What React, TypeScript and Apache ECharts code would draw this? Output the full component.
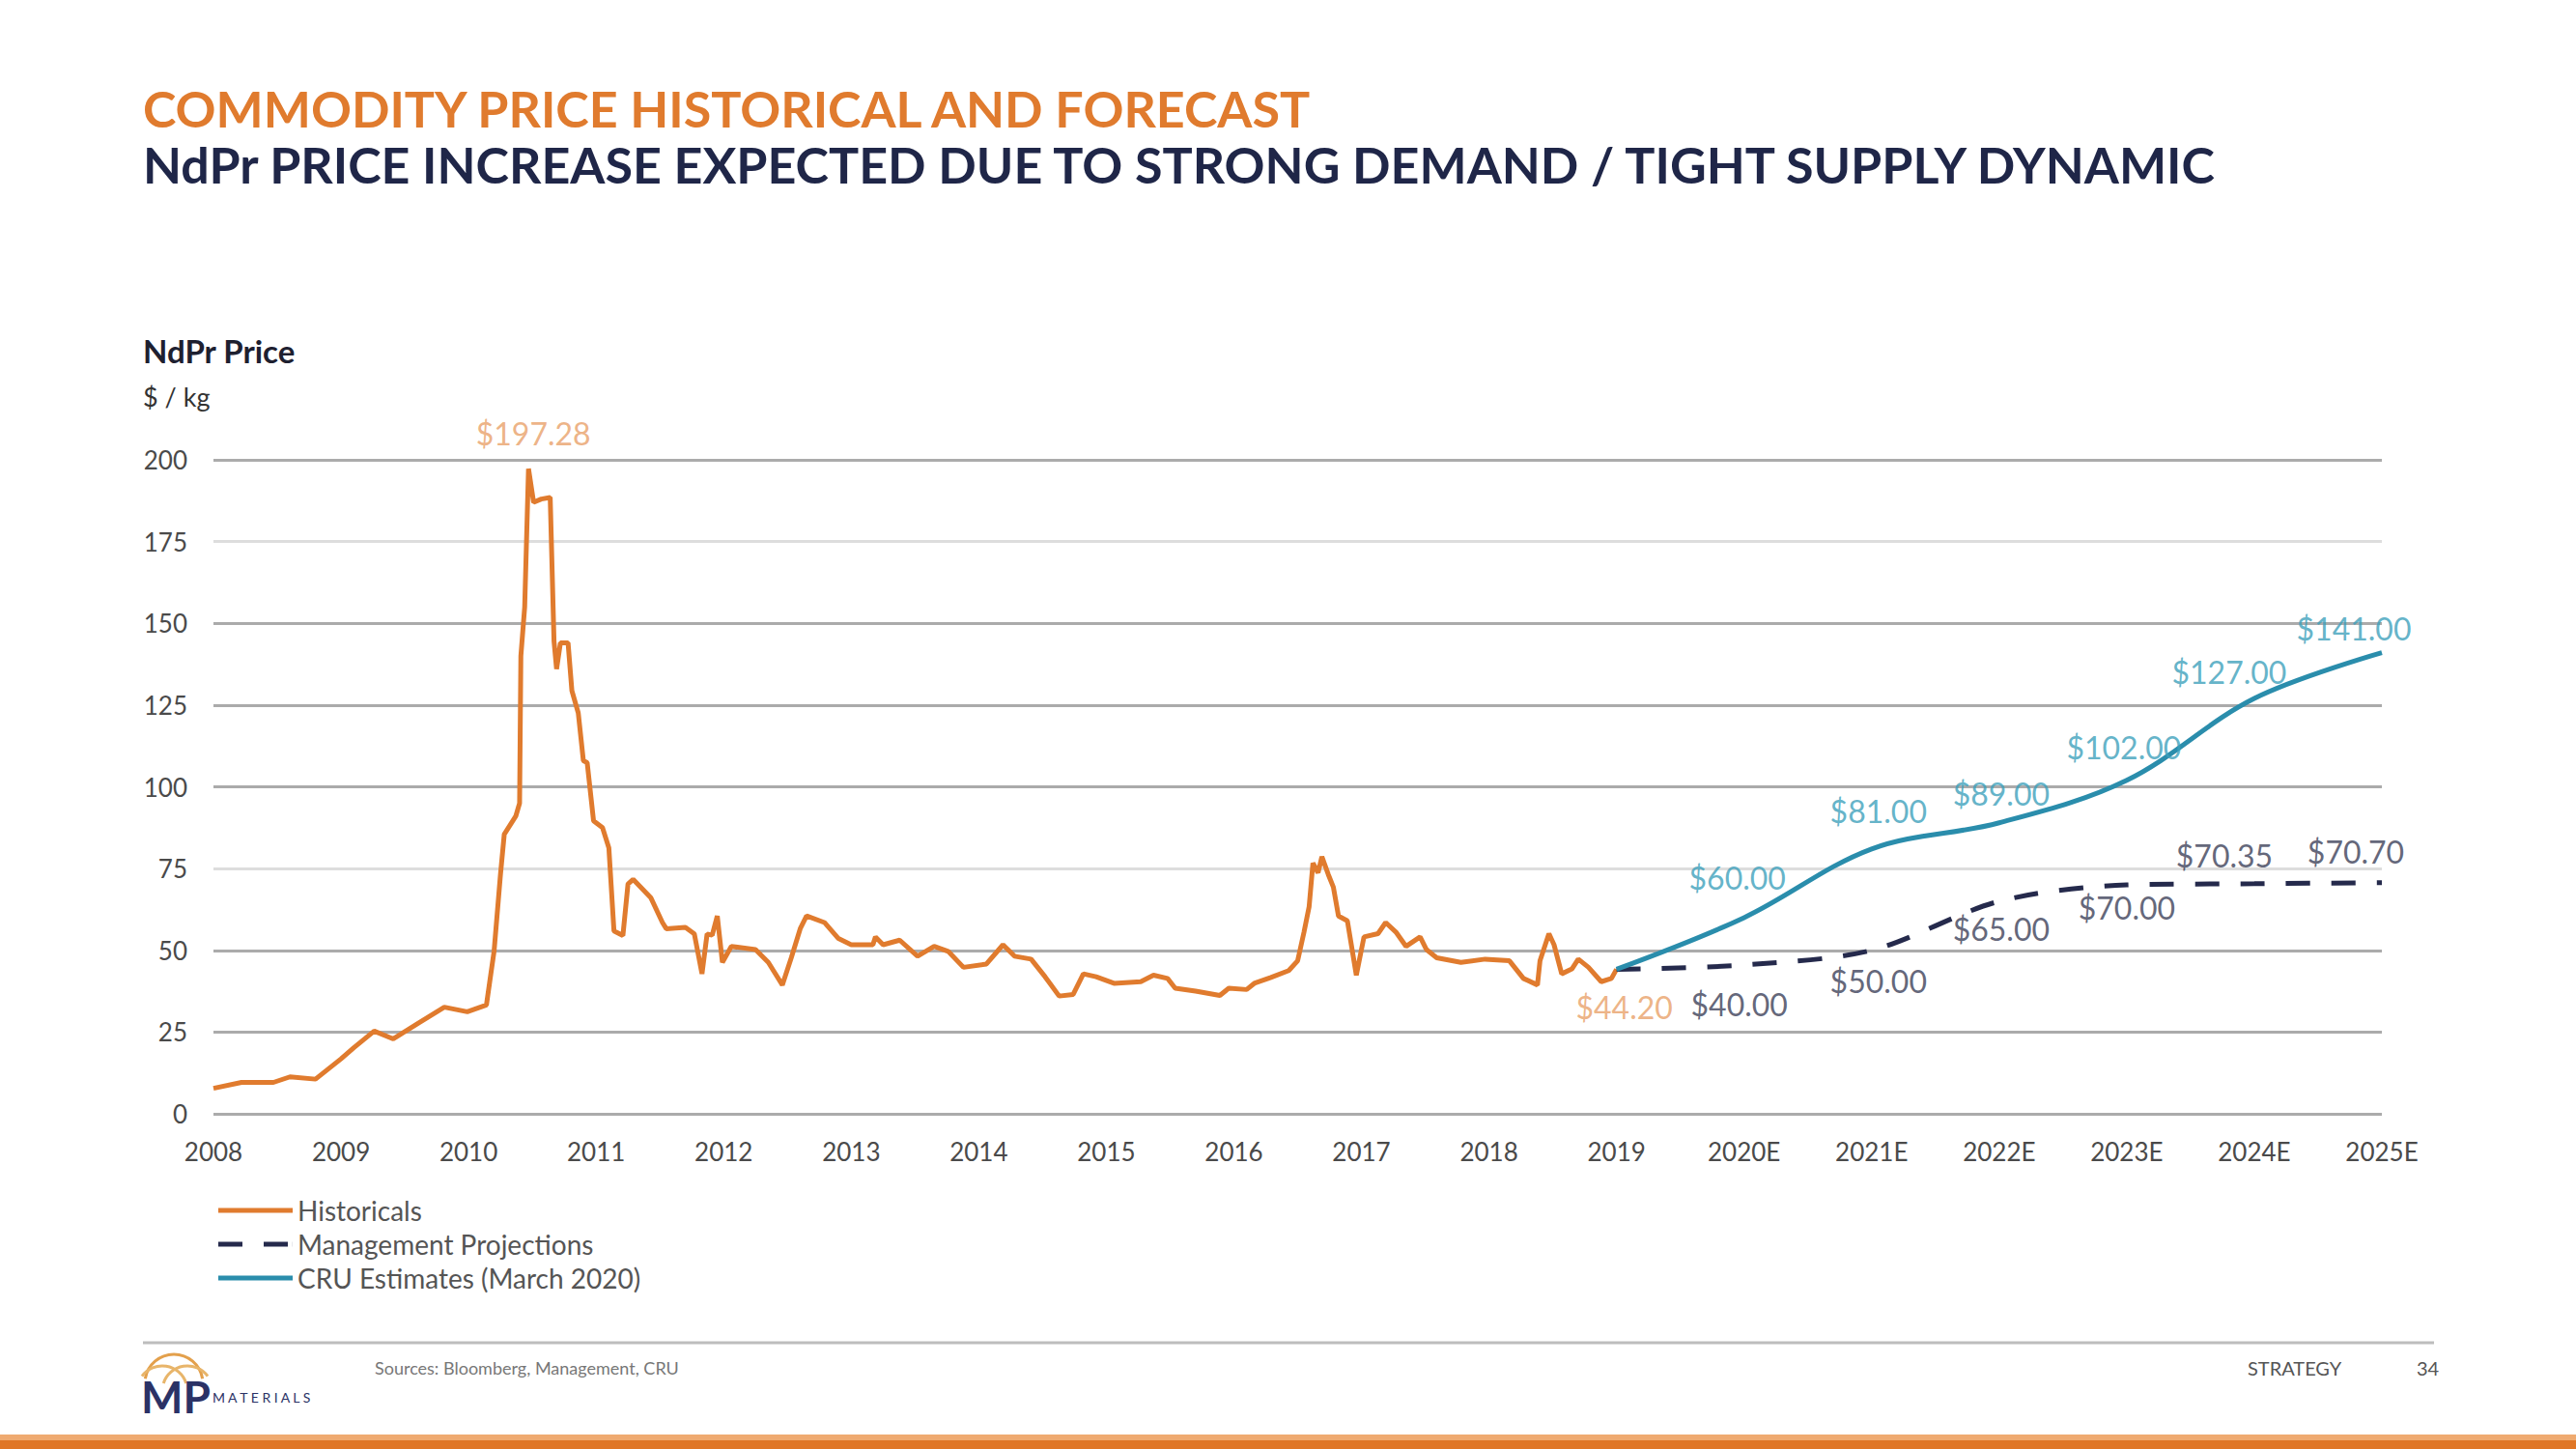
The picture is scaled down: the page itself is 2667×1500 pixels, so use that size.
import React, { useEffect, useRef } from 'react';
import * as echarts from 'echarts';

// ---------- DATA ----------
const histYears = [
  2008.0, 2008.22, 2008.47, 2008.6, 2008.8, 2008.9, 2009.0, 2009.1, 2009.26, 2009.41,
  2009.61, 2009.81, 2009.99, 2010.14, 2010.2, 2010.25, 2010.28, 2010.37, 2010.4, 2010.41,
  2010.44, 2010.47, 2010.51, 2010.57, 2010.64, 2010.67, 2010.69, 2010.72, 2010.78, 2010.81,
  2010.86, 2010.9, 2010.93, 2010.98, 2011.05, 2011.1, 2011.14, 2011.21, 2011.25, 2011.29,
  2011.43, 2011.52, 2011.55, 2011.7, 2011.77, 2011.83, 2011.87, 2011.91, 2011.95, 2011.99,
  2012.06, 2012.25, 2012.35, 2012.46, 2012.53, 2012.6, 2012.65, 2012.79, 2012.9, 2013.0,
  2013.17, 2013.19, 2013.25, 2013.38, 2013.52, 2013.65, 2013.76, 2013.88, 2014.06, 2014.19,
  2014.28, 2014.41, 2014.52, 2014.63, 2014.74, 2014.82, 2014.92, 2015.06, 2015.27, 2015.37,
  2015.48, 2015.54, 2015.7, 2015.89, 2015.96, 2016.1, 2016.16, 2016.29, 2016.43, 2016.5,
  2016.55, 2016.59, 2016.62, 2016.66, 2016.69, 2016.74, 2016.78, 2016.82, 2016.89, 2016.96,
  2017.02, 2017.13, 2017.19, 2017.27, 2017.35, 2017.46, 2017.51, 2017.59, 2017.78, 2017.97,
  2018.16, 2018.27, 2018.38, 2018.4, 2018.47, 2018.51, 2018.57, 2018.65, 2018.7, 2018.78,
  2018.88, 2018.96, 2019.0,
];
const histValues = [
  7.8, 9.6, 9.6, 11.3, 10.6, 13.7, 16.8, 20.2, 25.3, 22.9,
  27.8, 32.6, 31.2, 33.3, 49.7, 73.1, 85.5, 91, 95, 140,
  155, 197.28, 187, 188, 188.5, 144.5, 136, 144, 144, 129.4,
  122.6, 108, 107.4, 89.6, 87.5, 81.3, 55.9, 54.5, 70.3, 71.7,
  66, 58.5, 56.6, 57, 55, 42.8, 55, 54.6, 60.5, 46.3,
  51.2, 50.2, 46.3, 39.4, 47.7, 56.6, 60.5, 58.5, 53.6, 51.7,
  51.7, 54.1, 51.7, 53.1, 48.2, 51.2, 49.7, 44.8, 45.8, 51.7,
  48.2, 47.3, 41.9, 36, 36.5, 42.8, 41.9, 39.9, 40.4, 42.4,
  41.4, 38.4, 37.5, 36.2, 38.4, 38, 39.9, 41.7, 43.8, 46.8,
  55.6, 63.4, 76.7, 73.7, 78.6, 73.2, 69.3, 60.5, 59, 42.4,
  54.1, 55.1, 58.5, 55.6, 51.2, 54.1, 50.2, 47.7, 46.3, 47.3,
  46.8, 41.4, 39.4, 46.8, 55.1, 51.7, 42.8, 44.3, 47.3, 44.8,
  40.4, 41.4, 44.2,
];

const forecastYears = [2019, 2020, 2021, 2022, 2023, 2024, 2025];
const mgmtValues = [44.2, 45.5, 50, 65, 70, 70.35, 70.7];
const mgmtLabels = ['', '$40.00', '$50.00', '$65.00', '$70.00', '$70.35', '$70.70'];
const cruValues = [44.2, 60, 81, 89, 102, 127, 141];
const cruLabels = ['', '$60.00', '$81.00', '$89.00', '$102.00', '$127.00', '$141.00'];

const xTickLabels = [
  '2008', '2009', '2010', '2011', '2012', '2013', '2014', '2015', '2016', '2017',
  '2018', '2019', '2020E', '2021E', '2022E', '2023E', '2024E', '2025E',
];
const seriesNames = ['Historicals', 'Management Projections', 'CRU Estimates (March 2020)'];

// ---------- STYLE ----------
const FONT = 'Lato, "Open Sans", sans-serif';
const ORANGE = '#E07B2E';
const ORANGE_LABEL = '#E8A067';
const NAVY = '#252A4C';
const NAVY_LABEL = '#3A3E57';
const TEAL = '#2A8DAC';
const TEAL_LABEL = '#3C9FBB';

const SOLID_ICON = 'path://M0,0H77V5H0Z';
const DASH_ICON = 'path://M0,0H25V5H0ZM47,0H72V5H47ZM76.9,0H77V5H76.9Z';

const mgmtLabelPos: [string, number, number][] = [
  ['bottom', 0, 0], ['bottom', -5, 19], ['bottom', 7, 10], ['bottom', 2, 7],
  ['bottom', 0, 2], ['top', -31, -8], ['top', -27, -11],
];
const cruLabelPos: [string, number, number][] = [
  ['top', 0, 0], ['top', -7, -20], ['top', 7, -18], ['top', 2, -9],
  ['top', -3, -13], ['top', -26, -6], ['top', -29, -4],
];

export default function App() {
  const ref = useRef<HTMLDivElement>(null);

  useEffect(() => {
    if (!ref.current) return;
    const chart = echarts.init(ref.current, undefined, { renderer: 'svg' });

    const histData = histYears.map((x, i) => [x, histValues[i]]);
    let peakIdx = 0;
    histValues.forEach((v, i) => { if (v > histValues[peakIdx]) peakIdx = i; });
    const lastIdx = histValues.length - 1;

    const histLabelData = [
      {
        value: [histYears[peakIdx], histValues[peakIdx]],
        label: { show: true, position: 'top', offset: [5, -15], formatter: () => '$' + histValues[peakIdx].toFixed(2) },
      },
      {
        value: [histYears[lastIdx], histValues[lastIdx]],
        label: { show: true, position: 'bottom', offset: [8, 18], formatter: () => '$' + histValues[lastIdx].toFixed(2) },
      },
    ];

    const mgmtLabelData = forecastYears.map((x, i) => ({
      value: [x, mgmtValues[i]],
      label: {
        show: mgmtLabels[i] !== '',
        position: mgmtLabelPos[i][0],
        offset: [mgmtLabelPos[i][1], mgmtLabelPos[i][2]],
        formatter: () => mgmtLabels[i],
      },
    }));
    const cruLabelData = forecastYears.map((x, i) => ({
      value: [x, cruValues[i]],
      label: {
        show: cruLabels[i] !== '',
        position: cruLabelPos[i][0],
        offset: [cruLabelPos[i][1], cruLabelPos[i][2]],
        formatter: () => cruLabels[i],
      },
    }));

    const labelSeries = (data: any[], color: string) => ({
      type: 'scatter',
      silent: true,
      symbolSize: 1,
      itemStyle: { color: 'rgba(0,0,0,0)' },
      label: { fontSize: 32, fontFamily: FONT, color },
      data,
      z: 5,
    });

    const option: any = {
      animation: false,
      backgroundColor: '#ffffff',
      textStyle: { fontFamily: FONT },
      grid: { left: 221, right: 201, top: 476, bottom: 347, containLabel: false },
      xAxis: {
        type: 'value',
        min: 2008,
        max: 2025,
        interval: 1,
        axisLine: { show: false },
        axisTick: { show: false },
        splitLine: { show: false },
        axisLabel: {
          fontSize: 26,
          color: '#4a4a4a',
          margin: 26,
          fontFamily: FONT,
          showMinLabel: true,
          showMaxLabel: true,
          formatter: (v: number) => xTickLabels[Math.round(v) - 2008] ?? '',
        },
      },
      yAxis: {
        type: 'value',
        min: 0,
        max: 200,
        interval: 25,
        axisLine: { show: false },
        axisTick: { show: false },
        axisLabel: { fontSize: 26, color: '#4a4a4a', margin: 27, fontFamily: FONT },
        splitLine: {
          lineStyle: { color: ['#ABABAB', '#ABABAB', '#ABABAB', '#DDDDDD'], width: 3 },
        },
      },
      legend: {
        left: 221,
        top: 1233,
        orient: 'vertical',
        itemWidth: 77,
        itemHeight: 5,
        itemGap: 5,
        selectedMode: false,
        data: [
          { name: seriesNames[0], icon: SOLID_ICON },
          { name: seriesNames[1], icon: DASH_ICON },
          { name: seriesNames[2], icon: SOLID_ICON },
        ],
        textStyle: { fontSize: 28, color: '#555555', fontFamily: FONT, lineHeight: 30 },
      },
      series: [
        {
          name: seriesNames[0],
          type: 'line',
          data: histData,
          symbol: 'none',
          lineStyle: { color: ORANGE, width: 5 },
          itemStyle: { color: ORANGE },
          z: 2,
        },
        {
          name: seriesNames[1],
          type: 'line',
          data: forecastYears.map((x, i) => [x, mgmtValues[i]]),
          symbol: 'none',
          smooth: 0.3,
          lineStyle: { color: NAVY, width: 5, type: [25, 22] },
          itemStyle: { color: NAVY },
          z: 3,
        },
        {
          name: seriesNames[2],
          type: 'line',
          data: forecastYears.map((x, i) => [x, cruValues[i]]),
          symbol: 'none',
          smooth: 0.35,
          lineStyle: { color: TEAL, width: 5 },
          itemStyle: { color: TEAL },
          z: 4,
        },
        labelSeries(histLabelData, ORANGE_LABEL),
        labelSeries(mgmtLabelData, NAVY_LABEL),
        labelSeries(cruLabelData, TEAL_LABEL),
      ],
      graphic: [
        {
          type: 'text', left: 148, top: 86,
          style: { text: 'COMMODITY PRICE HISTORICAL AND FORECAST', fontSize: 52, fontWeight: 'bold', fill: ORANGE, fontFamily: FONT },
        },
        {
          type: 'text', left: 148, top: 144,
          style: { text: 'NdPr PRICE INCREASE EXPECTED DUE TO STRONG DEMAND / TIGHT SUPPLY DYNAMIC', fontSize: 52, fontWeight: 'bold', fill: '#1F2648', fontFamily: FONT },
        },
        {
          type: 'text', left: 148, top: 346,
          style: { text: 'NdPr Price', fontSize: 33, fontWeight: 'bold', fill: '#1E2030', fontFamily: FONT },
        },
        {
          type: 'text', left: 148, top: 397,
          style: { text: '$ / kg', fontSize: 27, fill: '#333333', fontFamily: FONT },
        },
        {
          type: 'line',
          shape: { x1: 148, y1: 1390, x2: 2520, y2: 1390 },
          style: { stroke: '#BDBDBD', lineWidth: 3 },
        },
        // logo
        {
          type: 'arc',
          shape: { cx: 180, cy: 1432, r: 30, startAngle: Math.PI * 1.05, endAngle: Math.PI * 1.95 },
          style: { stroke: '#E3A04C', lineWidth: 3, fill: null },
        },
        {
          type: 'arc',
          shape: { cx: 168, cy: 1440, r: 26, startAngle: Math.PI * 1.2, endAngle: Math.PI * 1.9 },
          style: { stroke: '#E8B56A', lineWidth: 3, fill: null },
        },
        {
          type: 'arc',
          shape: { cx: 194, cy: 1440, r: 26, startAngle: Math.PI * 1.1, endAngle: Math.PI * 1.8 },
          style: { stroke: '#E8B56A', lineWidth: 3, fill: null },
        },
        {
          type: 'text', left: 146, top: 1422,
          style: { text: 'MP', fontSize: 46, fontWeight: 'bold', fill: '#2B3266', fontFamily: FONT },
        },
        {
          type: 'text', left: 220, top: 1439,
          style: { text: 'M A T E R I A L S', fontSize: 14, fill: '#2B3266', fontFamily: FONT },
        },
        {
          type: 'text', left: 388, top: 1407,
          style: { text: 'Sources: Bloomberg, Management, CRU', fontSize: 18, fill: '#777777', fontFamily: FONT },
        },
        {
          type: 'text', left: 2327, top: 1406,
          style: { text: 'STRATEGY', fontSize: 20, fill: '#555555', fontFamily: FONT },
        },
        {
          type: 'text', left: 2502, top: 1406,
          style: { text: '34', fontSize: 20, fill: '#555555', fontFamily: FONT },
        },
        {
          type: 'rect',
          shape: { x: 0, y: 1485, width: 2667, height: 6 },
          style: { fill: '#EFAA70' },
        },
        {
          type: 'rect',
          shape: { x: 0, y: 1491, width: 2667, height: 9 },
          style: { fill: '#E07626' },
        },
      ],
    };

    chart.setOption(option);
    return () => chart.dispose();
  }, []);

  return (
    <div
      ref={ref}
      style={{ position: 'absolute', left: 0, top: 0, width: 2667, height: 1500, background: '#fff' }}
    />
  );
}
